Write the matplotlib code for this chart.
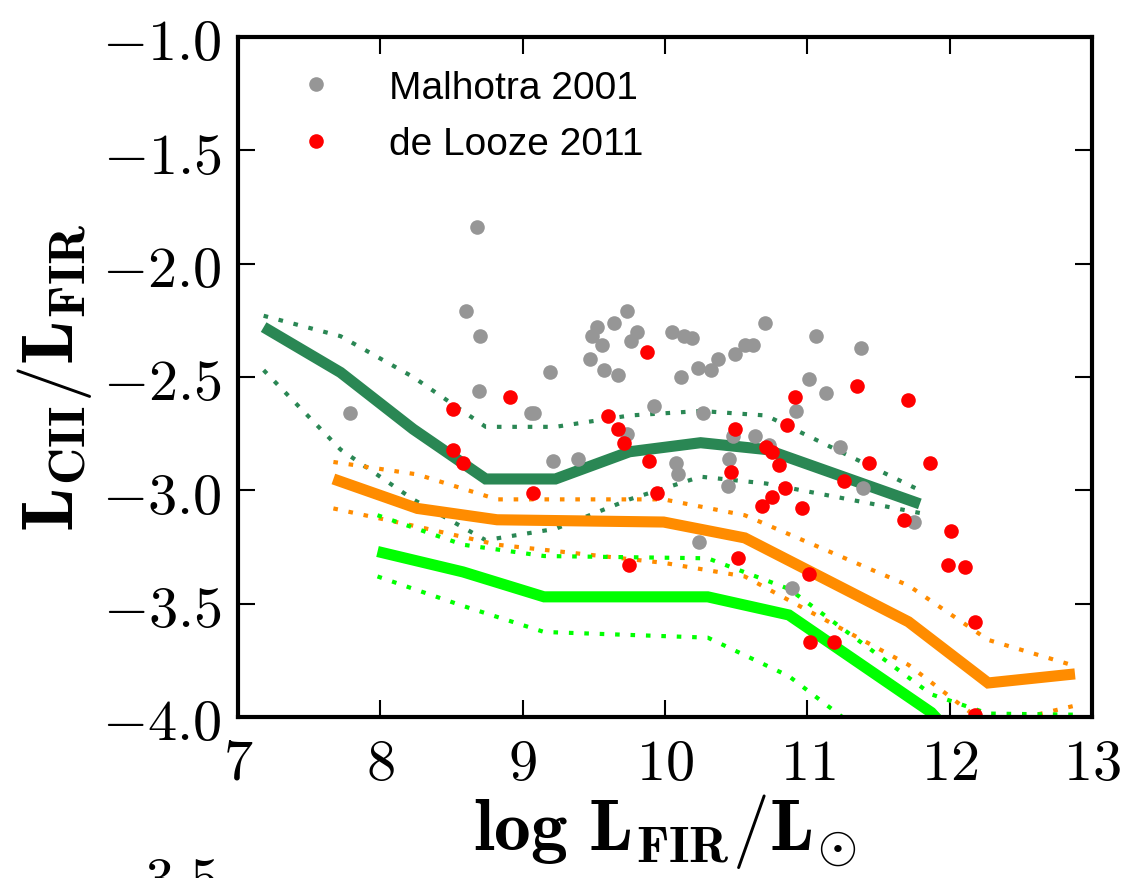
import matplotlib
matplotlib.use("Agg")
import matplotlib.pyplot as plt
from matplotlib.ticker import FixedLocator, FuncFormatter

plt.rcParams["mathtext.fontset"] = "cm"

# model tracks: median and 1-sigma envelopes (log LFIR, log LCII/LFIR)
dark_x = [7.18, 7.72, 8.23, 8.74, 9.23, 9.75, 10.25, 10.71, 11.79]
dark_mid = [-2.28, -2.48, -2.73, -2.95, -2.95, -2.83, -2.79, -2.82, -3.06]
dark_hi = [-2.23, -2.32, -2.50, -2.72, -2.72, -2.67, -2.65, -2.67, -3.00]
dark_lo = [-2.47, -2.82, -3.04, -3.22, -3.17, -3.04, -2.94, -2.97, -3.10]

orange_x = [7.67, 8.26, 8.82, 9.99, 10.56, 11.71, 12.27, 12.88]
orange_mid = [-2.95, -3.08, -3.13, -3.14, -3.21, -3.58, -3.85, -3.81]
orange_hi = [-2.875, -2.93, -3.04, -3.04, -3.11, -3.42, -3.66, -3.775]
orange_lo = [-3.08, -3.16, -3.24, -3.32, -3.38, -3.77, -4.04, -3.95]

lime_x = [7.98, 8.58, 9.15, 10.30, 10.87, 11.87, 12.27, 12.88]
lime_mid = [-3.27, -3.36, -3.47, -3.47, -3.55, -3.98, -4.25, -4.60]
lime_hi = [-3.11, -3.24, -3.29, -3.30, -3.435, -3.90, -3.985, -3.99]
lime_lo = [-3.38, -3.51, -3.625, -3.65, -3.82, -4.30, -4.50, -4.80]

# Malhotra et al. 2001
malhotra_x = [7.79, 8.68, 8.60, 8.70, 8.69, 9.06, 9.73, 9.64, 9.52, 9.80,
              9.49, 9.76, 9.56, 9.47, 9.19, 9.57, 9.67, 10.05, 10.13, 10.19,
              10.70, 10.37, 10.49, 10.56, 10.62, 10.23, 10.32, 10.11, 9.92, 9.08,
              10.27, 9.73, 9.21, 9.39, 10.08, 10.09, 10.48, 10.63, 10.73, 10.45,
              10.44, 10.24, 10.92, 11.06, 11.38, 11.01, 11.13, 11.23, 11.39, 11.75,
              10.89]
malhotra_y = [-2.66, -1.84, -2.21, -2.32, -2.56, -2.66, -2.21, -2.26, -2.28, -2.30,
              -2.32, -2.34, -2.36, -2.42, -2.48, -2.47, -2.49, -2.30, -2.32, -2.33,
              -2.26, -2.42, -2.40, -2.36, -2.36, -2.46, -2.47, -2.50, -2.63, -2.66,
              -2.66, -2.75, -2.87, -2.86, -2.88, -2.93, -2.76, -2.76, -2.80, -2.86,
              -2.98, -3.23, -2.65, -2.32, -2.37, -2.51, -2.57, -2.81, -2.99, -3.14,
              -3.43]

# de Looze et al. 2011
delooze_x = [8.51, 8.91, 8.51, 8.58, 9.07, 9.87, 9.60, 9.67, 9.71, 9.89,
             9.94, 9.75, 10.49, 10.46, 10.51, 10.71, 10.75, 10.80, 10.84, 10.75,
             10.68, 10.91, 10.86, 10.96, 11.35, 11.71, 11.43, 11.86, 11.26, 11.68,
             12.01, 11.99, 12.11, 11.01, 12.18, 11.02, 11.19, 12.18]
delooze_y = [-2.64, -2.59, -2.82, -2.88, -3.01, -2.39, -2.67, -2.73, -2.79, -2.87,
             -3.01, -3.33, -2.73, -2.92, -3.30, -2.81, -2.83, -2.89, -2.99, -3.03,
             -3.07, -2.59, -2.71, -3.08, -2.54, -2.60, -2.88, -2.88, -2.96, -3.13,
             -3.18, -3.33, -3.34, -3.37, -3.58, -3.67, -3.67, -3.99]

x_ticks = [7, 8, 9, 10, 11, 12, 13]
y_ticks = [-4.0, -3.5, -3.0, -2.5, -2.0, -1.5, -1.0]

DARK = "#2a8754"
ORANGE = "#ff8c00"
LIME = "#00ff00"
DOT = (0, (1.1, 2.6))

fig = plt.figure(figsize=(11.27, 8.79), dpi=100)
ax = fig.add_axes([0.2112, 0.1832, 0.7578, 0.7736])

for xs, mid, hi, lo, c in [(dark_x, dark_mid, dark_hi, dark_lo, DARK),
                           (orange_x, orange_mid, orange_hi, orange_lo, ORANGE),
                           (lime_x, lime_mid, lime_hi, lime_lo, LIME)]:
    ax.plot(xs, mid, color=c, lw=8, solid_capstyle="butt", solid_joinstyle="miter")
    ax.plot(xs, hi, color=c, lw=3, linestyle=DOT, dash_capstyle="butt")
    ax.plot(xs, lo, color=c, lw=3, linestyle=DOT, dash_capstyle="butt")

ax.plot(malhotra_x, malhotra_y, "o", color="#969696", ms=10.5, mew=0,
        label="Malhotra 2001")
ax.plot(delooze_x, delooze_y, "o", color="#ff0000", ms=10.5, mew=0,
        label="de Looze 2011")

ax.set_xlim(7, 13)
ax.set_ylim(-4.0, -1.0)
ax.xaxis.set_major_locator(FixedLocator(x_ticks))
ax.yaxis.set_major_locator(FixedLocator(y_ticks))
ax.xaxis.set_major_formatter(FuncFormatter(lambda v, p: r"$%d$" % v))
ax.yaxis.set_major_formatter(FuncFormatter(lambda v, p: r"$%.1f$" % v))
ax.tick_params(direction="in", length=12, width=1.5, labelsize=42,
               top=True, right=True)
ax.tick_params(axis="x", pad=12)
ax.tick_params(axis="y", pad=12)
for s in ax.spines.values():
    s.set_linewidth(3)

ax.set_xlabel(r"$\mathbf{log\ L_{FIR}/L_{\odot}}$", fontsize=53, labelpad=0)
ax.set_ylabel(r"$\mathbf{L_{CII}/L_{FIR}}$", fontsize=53, labelpad=6)

ax.legend(loc="upper left", bbox_to_anchor=(0.027, 1.003), frameon=False,
          numpoints=1, prop={"family": "Liberation Sans", "size": 28},
          handlelength=1.0, handletextpad=1.4, labelspacing=0.52)

# top of the next panel's tick label, cut off by the figure edge
fig.text(0.1925, 0.030, r"$3.5$", fontsize=42, ha="right", va="top")

fig.savefig("out.png", dpi=100)
